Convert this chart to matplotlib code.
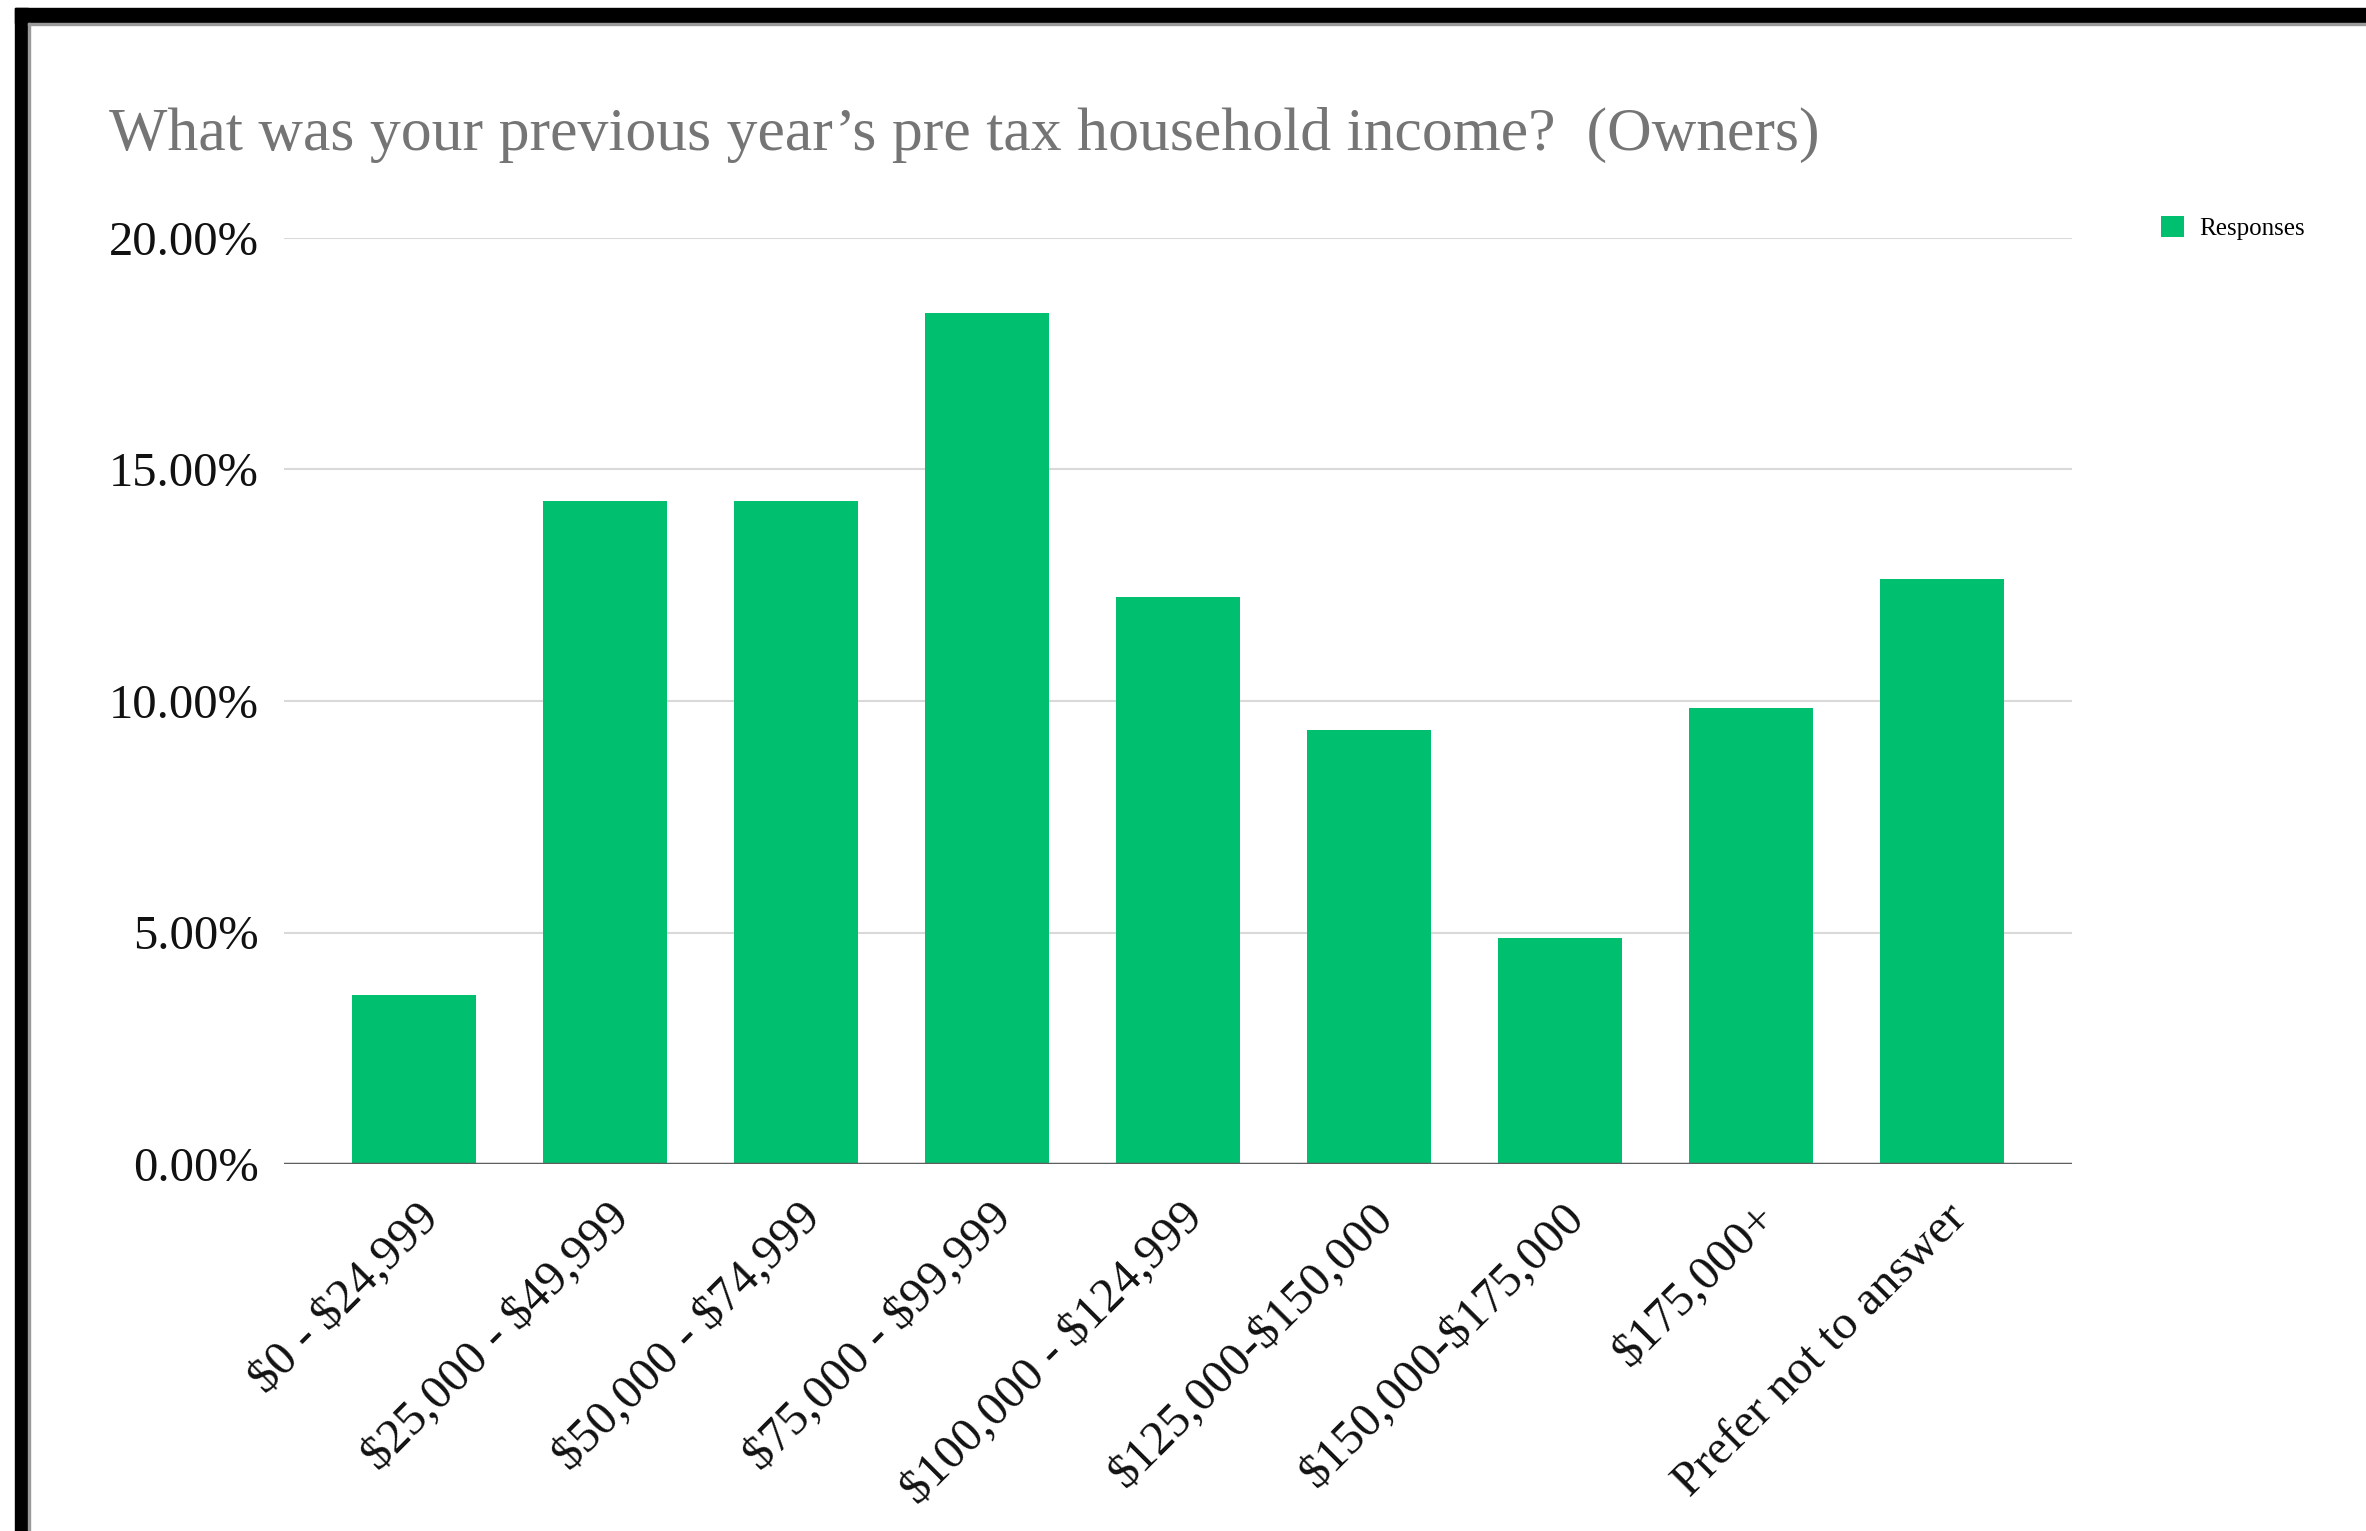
import matplotlib
matplotlib.use("Agg")
import matplotlib.pyplot as plt
from matplotlib.patches import Rectangle
from matplotlib.ticker import FuncFormatter
from matplotlib.transforms import ScaledTranslation

plt.rcParams['font.family'] = ['Liberation Serif', 'DejaVu Serif']
plt.rcParams['text.parse_math'] = False

# income brackets and share of responses (%)
brackets = ["$0 - $24,999", "$25,000 - $49,999", "$50,000 - $74,999",
            "$75,000 - $99,999", "$100,000 - $124,999", "$125,000-$150,000",
            "$150,000-$175,000", "$175,000+", "Prefer not to answer"]
responses = [3.66, 14.33, 14.33, 18.37, 12.25, 9.38, 4.89, 9.84, 12.64]
yticks = [0, 5, 10, 15, 20]

W, H = 2366, 1531
fig = plt.figure(figsize=(W / 100, H / 100), dpi=100)
ax = fig.add_axes([284 / W, 1 - 1164 / H, (2072 - 284) / W, (1164 - 238) / H])

x = range(len(brackets))
bars = ax.bar(x, responses, width=0.645, color='#00bf6f', label='Responses', zorder=3)

ax.set_xlim(-0.68, len(brackets) - 1 + 0.68)
ax.set_ylim(0, 20)
ax.set_yticks(yticks)
ax.yaxis.set_major_formatter(FuncFormatter(lambda v, p: f"{v:.2f}%"))
ax.grid(axis='y', color='#d9d9d9', linewidth=1.5, zorder=0)
ax.axhline(0, color='#5f5f5f', linewidth=2.5, zorder=4)
for s in ax.spines.values():
    s.set_visible(False)
ax.tick_params(axis='both', length=0, labelsize=35, colors='#111111')
ax.tick_params(axis='y', pad=18)

ax.set_xticks(list(x))
ax.set_xticklabels(brackets, rotation=45, ha='right', va='center',
                   rotation_mode='anchor')
ax.tick_params(axis='x', pad=28)
# nudge the slanted labels so their ends sit just right of each bar centre
shift = ScaledTranslation(0.18, -0.08, fig.dpi_scale_trans)
for lbl in ax.get_xticklabels():
    lbl.set_transform(lbl.get_transform() + shift)

fig.text(109 / W, 1 - 150 / H,
         "What was your previous year\u2019s pre tax household income?  (Owners)",
         fontsize=44.5, color='#757575', va='baseline', ha='left')

ax.legend(handles=[bars], loc='upper left', bbox_to_anchor=(2138 / W, 1 - 193 / H),
          bbox_transform=fig.transFigure, frameon=False, fontsize=18,
          handlelength=0.95, handleheight=0.95, handletextpad=0.6)

# black frame along the top and left edges
fig.patches.append(Rectangle((15 / W, 0), 13 / W, 1 - 8 / H, transform=fig.transFigure,
                             color='black', zorder=10))
fig.patches.append(Rectangle((15 / W, 1 - 23 / H), 1, 15 / H, transform=fig.transFigure,
                             color='black', zorder=10))
fig.patches.append(Rectangle((28 / W, 0), 2 / W, 1 - 23 / H, transform=fig.transFigure,
                             color='#9a9a9a', zorder=10))
fig.patches.append(Rectangle((28 / W, 1 - 25 / H), 1, 2 / H, transform=fig.transFigure,
                             color='#9a9a9a', zorder=10))

fig.savefig("out.png", dpi=100, facecolor='white')
